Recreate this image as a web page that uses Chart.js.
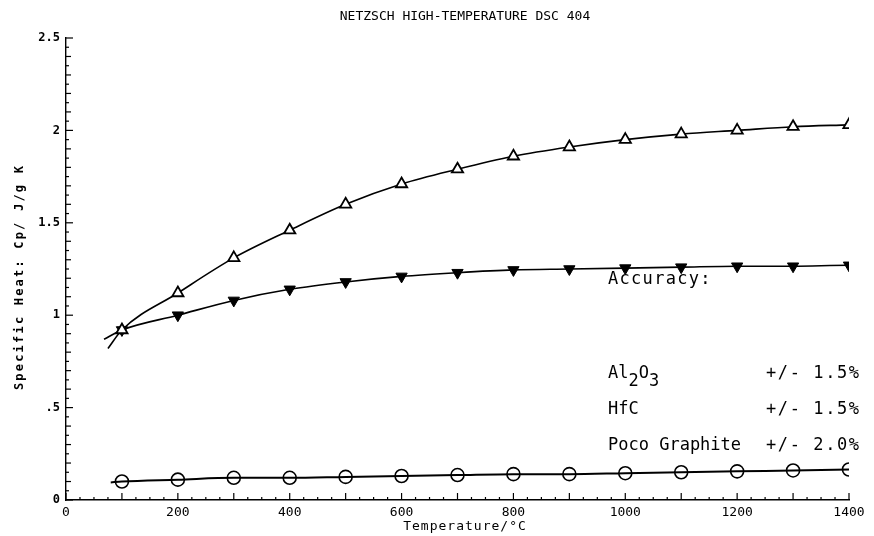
<!DOCTYPE html>
<html><head><meta charset="utf-8">
<script src="https://cdn.jsdelivr.net/npm/chart.js@4/dist/chart.umd.min.js"></script>
<style>html,body{margin:0;padding:0;background:#fff}</style>
</head><body>
<canvas id="c" width="874" height="536"></canvas>
<script>
// ---- data ----
const temps = [100,200,300,400,500,600,700,800,900,1000,1100,1200,1300,1400];
const openTriangle   = [0.92,1.12,1.31,1.46,1.60,1.71,1.79,1.86,1.91,1.95,1.98,2.00,2.02,2.03];
const filledTriangle = [0.92,1.00,1.08,1.14,1.18,1.21,1.23,1.245,1.25,1.255,1.26,1.265,1.265,1.27];
const circles        = [0.10,0.11,0.12,0.12,0.125,0.13,0.135,0.14,0.14,0.145,0.15,0.155,0.16,0.165];
// where each drawn curve begins (left end of the line, no marker)
const openStart   = [75, 0.82];
const filledStart = [68, 0.87];
const circleStart = [80, 0.095];
const filledEnd   = [1415, 1.27];
const xTickLabels = ['0','200','400','600','800','1000','1200','1400'];
const yTickLabels = ['0','.5','1','1.5','2','2.5'];
const titleText = 'NETZSCH HIGH-TEMPERATURE DSC 404';
const xTitle = 'Temperature/\u00B0C';
const yTitle = 'Specific Heat: Cp/ J/g K';
const accuracyRows = [
  {name:['Al',{sub:'2'},'O',{sub:'3'}], acc:'+/- 1.5%'},
  {name:['HfC'], acc:'+/- 1.5%'},
  {name:['Poco Graphite'], acc:'+/- 2.0%'}
];

function series(vals, start, end){
  const pts = [{x:start[0], y:start[1]}];
  temps.forEach((t,i)=>pts.push({x:t, y:vals[i]}));
  if (end) pts.push({x:end[0], y:end[1]});
  return pts;
}
const markerRadius = (n, hasEnd) => ctx => (ctx.dataIndex===0 || (hasEnd && ctx.dataIndex===n+1)) ? 0 : 6.5;

const mono = "'DejaVu Sans Mono', 'Liberation Mono', monospace";

const extras = {
  id:'extras',
  afterDraw(chart){
    const {ctx, chartArea:a, scales:{x,y}} = chart;
    ctx.save();
    ctx.strokeStyle = '#000';
    ctx.lineWidth = 1.2;
    // inward minor/major ticks on y axis
    for (let i=0;i<=50;i++){
      const py = y.getPixelForValue(i*0.05);
      const len = (i%10===0)?7:((i%2===0)?5:3);
      ctx.beginPath(); ctx.moveTo(a.left,py); ctx.lineTo(a.left+len,py); ctx.stroke();
    }
    // inward ticks on x axis
    for (let i=0;i<=56;i++){
      const px = x.getPixelForValue(i*25);
      const len = (i%4===0)?7:3;
      ctx.beginPath(); ctx.moveTo(px,a.bottom); ctx.lineTo(px,a.bottom-len); ctx.stroke();
    }
    ctx.fillStyle = '#000';
    // title
    ctx.font = '13px ' + mono;
    ctx.textAlign = 'center'; ctx.textBaseline = 'middle';
    ctx.fillText(titleText, 465, 17);
    // y axis title (rotated)
    ctx.save();
    ctx.translate(20, (a.top + a.bottom)/2 + 8);
    ctx.rotate(-Math.PI/2);
    ctx.font = 'bold 12px ' + mono;
    ctx.letterSpacing = '2.2px';
    ctx.fillText(yTitle, 0, 0);
    ctx.restore();
    // x axis title
    ctx.font = '13px ' + mono;
    ctx.letterSpacing = '1px';
    ctx.fillText(xTitle, 465, 527);
    // accuracy block
    ctx.textAlign = 'left'; ctx.textBaseline = 'alphabetic';
    ctx.font = '17px ' + mono;
    ctx.letterSpacing = '1.3px';
    ctx.fillText('Accuracy:', 608, 284);
    const rowsY = [378, 414, 450];
    accuracyRows.forEach((r,k)=>{
      let cx = 608; const by = rowsY[k];
      ctx.letterSpacing = '0px';
      r.name.forEach(part=>{
        ctx.font = '17px ' + mono;
        if (typeof part === 'string'){
          ctx.fillText(part, cx, by); cx += ctx.measureText(part).width;
        } else {
          ctx.fillText(part.sub, cx, by+8); cx += ctx.measureText(part.sub).width;
        }
      });
      ctx.letterSpacing = '1.6px';
      ctx.fillText(r.acc, 766, by);
    });
    ctx.restore();
  }
};

new Chart(document.getElementById('c'), {
  type:'scatter',
  data:{datasets:[
    {data:series(openTriangle, openStart), showLine:true, borderColor:'#000', borderWidth:1.6,
     pointStyle:'triangle', pointRadius:markerRadius(14,false), pointBackgroundColor:'#fff',
     pointBorderColor:'#000', pointBorderWidth:1.8, cubicInterpolationMode:'monotone'},
    {data:series(filledTriangle, filledStart, filledEnd), showLine:true, borderColor:'#000', borderWidth:1.6,
     pointStyle:'triangle', rotation:180, pointRadius:markerRadius(14,true), pointBackgroundColor:'#000',
     pointBorderColor:'#000', pointBorderWidth:1, cubicInterpolationMode:'monotone'},
    {data:series(circles, circleStart), showLine:true, borderColor:'#000', borderWidth:2,
     pointStyle:'circle', pointRadius:markerRadius(14,false), pointBackgroundColor:'rgba(0,0,0,0)',
     pointBorderColor:'#000', pointBorderWidth:1.6, cubicInterpolationMode:'monotone'}
  ]},
  options:{
    responsive:false, animation:false,
    layout:{padding:{top:38,left:10,right:25,bottom:0}},
    plugins:{legend:{display:false}, tooltip:{enabled:false}},
    scales:{
      x:{type:'linear', min:0, max:1400,
         afterFit:s=>{s.height=36;},
         grid:{display:false, drawTicks:false},
         border:{display:true, color:'#000', width:1.4},
         ticks:{stepSize:200, padding:5, color:'#000', font:{family:mono, size:13},
                callback:(v)=>xTickLabels[Math.round(v/200)] ?? ''},
         title:{display:false}},
      y:{type:'linear', min:0, max:2.5,
         afterFit:s=>{s.width=56;},
         grid:{display:false, drawTicks:false},
         border:{display:true, color:'#000', width:1.4},
         ticks:{stepSize:0.5, padding:6, color:'#000', font:{family:mono, size:12, weight:'bold'},
                callback:(v)=>yTickLabels[Math.round(v/0.5)] ?? ''},
         title:{display:false}}
    }
  },
  plugins:[extras]
});
</script>
</body></html>
